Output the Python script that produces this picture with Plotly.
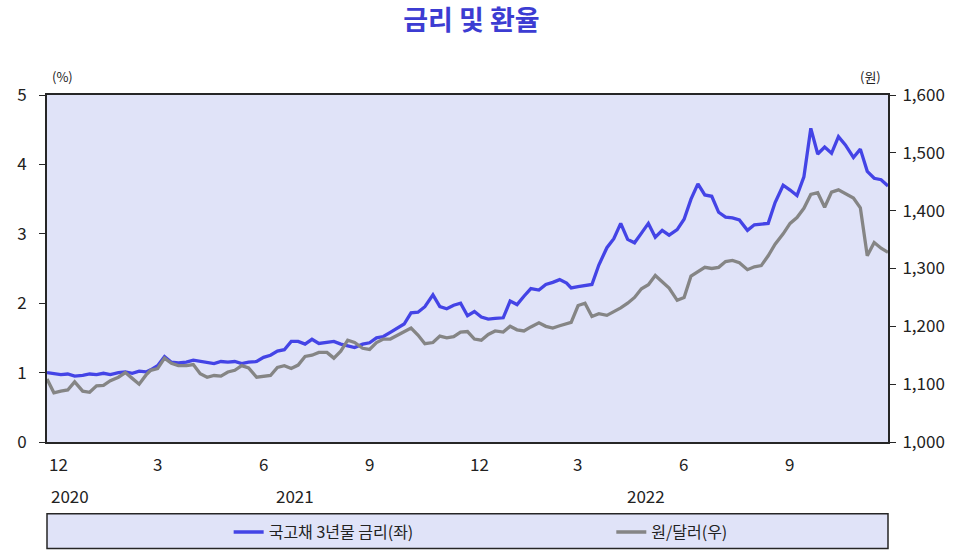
import pandas as pd
import plotly.graph_objects as go

# 관측일: 2020.12 ~ 2022.11 매월 1, 7, 13, 19, 25일 + 2022.12.1
months = pd.date_range('2020-12-01', '2022-11-01', freq='MS')
sample_days = [0, 6, 12, 18, 24]
dates = [m + pd.Timedelta(days=d) for m in months for d in sample_days]
dates.append(pd.Timestamp('2022-12-01'))

# 국고채 3년물 금리 (%)
ktb_3y = [
    1.00, 0.98, 0.97, 0.98, 0.95,  # 2020-12
    0.96, 0.98, 0.97, 0.99, 0.97,  # 2021-01
    1.00, 1.01, 0.99, 1.02, 1.01,
    1.04, 1.10, 1.23, 1.15, 1.14,
    1.15, 1.18, 1.16, 1.15, 1.13,
    1.16, 1.15, 1.16, 1.13, 1.15,
    1.16, 1.22, 1.25, 1.31, 1.33,
    1.45, 1.45, 1.41, 1.48, 1.42,
    1.44, 1.45, 1.41, 1.38, 1.36,
    1.41, 1.43, 1.50, 1.52, 1.58,
    1.64, 1.70, 1.86, 1.87, 1.95,
    2.12, 1.95, 1.92, 1.97, 2.00,
    1.82, 1.88, 1.80, 1.77, 1.78,  # 2021-12
    1.79, 2.03, 1.98, 2.10, 2.21,  # 2022-01
    2.19, 2.27, 2.30, 2.34, 2.29,
    2.22, 2.24, 2.26, 2.27, 2.55,
    2.80, 2.93, 3.15, 2.92, 2.87,
    3.01, 3.15, 2.95, 3.05, 2.98,
    3.06, 3.21, 3.50, 3.72, 3.56,
    3.54, 3.31, 3.24, 3.23, 3.20,
    3.05, 3.13, 3.14, 3.15, 3.45,
    3.70, 3.63, 3.55, 3.82, 4.52,
    4.15, 4.25, 4.16, 4.40, 4.28,
    4.10, 4.22, 3.90, 3.80, 3.78,
    3.69,
]

# 원/달러 환율 (원)
usd_krw = [
    1109, 1085, 1088, 1090, 1104,  # 2020-12
    1088, 1086, 1097, 1098, 1106,  # 2021-01
    1112, 1120, 1110, 1100, 1116,
    1124, 1127, 1145, 1136, 1132,
    1132, 1134, 1118, 1112, 1115,
    1114, 1121, 1124, 1132, 1128,
    1112, 1114, 1115, 1129, 1132,
    1127, 1133, 1148, 1150, 1155,
    1155, 1145, 1157, 1176, 1172,
    1162, 1160, 1172, 1178, 1178,
    1184, 1190, 1197, 1185, 1170,
    1172, 1183, 1180, 1182, 1190,
    1191, 1178, 1176, 1186, 1192,  # 2021-12
    1190, 1200, 1194, 1192, 1199,  # 2022-01
    1206, 1200, 1197, 1201, 1204,
    1207, 1236, 1240, 1217, 1222,
    1219, 1225, 1232, 1240, 1250,
    1265, 1272, 1288, 1276, 1266,
    1245, 1250, 1287, 1294, 1302,
    1300, 1302, 1312, 1314, 1310,
    1298, 1303, 1305, 1322, 1342,
    1360, 1378, 1388, 1404, 1428,
    1431, 1406, 1432, 1436, 1430,
    1422, 1405, 1322, 1345, 1335,
    1328,
]

month_ticks = ['2020-12-01', '2021-03-01', '2021-06-01', '2021-09-01',
               '2021-12-01', '2022-03-01', '2022-06-01', '2022-09-01']
month_labels = ['12', '3', '6', '9', '12', '3', '6', '9']
year_pos = ['2020-12-21', '2021-07-04', '2022-05-05']
year_labels = ['2020', '2021', '2022']

FONT = 'Noto Sans CJK KR'
BLUE = '#4444e6'
GRAY = '#858585'
AXIS = '#262626'

fig = go.Figure()

fig.add_trace(go.Scatter(
    x=dates, y=ktb_3y, name='국고채 3년물 금리(좌)', mode='lines',
    line=dict(color=BLUE, width=3.3), legend='legend'))

fig.add_trace(go.Scatter(
    x=dates, y=usd_krw, name='원/달러(우)', mode='lines', yaxis='y2',
    line=dict(color=GRAY, width=3.3), legend='legend2'))

legend_style = dict(orientation='h', xanchor='left', y=-0.256,
                    yanchor='middle', bgcolor='rgba(0,0,0,0)',
                    font=dict(family=FONT, size=16, color='#222222'))

fig.update_layout(
    width=966, height=560,
    margin=dict(l=47, r=78, t=95, b=117),
    paper_bgcolor='white',
    plot_bgcolor='#e0e3f8',
    font=dict(family=FONT, size=17, color='#222222'),
    title=dict(text='<b>금리 및 환율</b>', x=0.488, xanchor='center',
               y=0.963, yanchor='middle',
               font=dict(family=FONT, size=27, color='#3c3cd2')),
    showlegend=True,
    legend=dict(x=0.216, **legend_style),
    legend2=dict(x=0.671, **legend_style),
    xaxis=dict(type='date', range=['2020-12-01', '2022-12-01'],
               showticklabels=False, ticks='', showgrid=False,
               showline=True, linecolor=AXIS, linewidth=2, mirror=True,
               zeroline=False),
    yaxis=dict(range=[0, 5], dtick=1, ticks='outside', ticklen=6,
               ticklabelstandoff=9,
               tickcolor=AXIS, showgrid=False, zeroline=False,
               showline=True, linecolor=AXIS, linewidth=2),
    yaxis2=dict(range=[1000, 1600], dtick=100, tickformat=',',
                overlaying='y', side='right', ticks='outside', ticklen=6,
                ticklabelstandoff=3,
                tickcolor=AXIS, showgrid=False, zeroline=False,
                showline=True, linecolor=AXIS, linewidth=2),
)

# 범례 상자
fig.add_shape(type='rect', xref='paper', yref='paper',
              x0=0, x1=1, y0=-0.307, y1=-0.207,
              fillcolor='#e0e3f8', line=dict(color=AXIS, width=1.5),
              layer='below')

# 월 / 연도 라벨
for d, t in zip(month_ticks, month_labels):
    fig.add_annotation(x=d, y=-0.063, xref='x', yref='paper', text=t,
                       showarrow=False, xanchor='left', yanchor='middle',
                       font=dict(size=17))
for d, t in zip(year_pos, year_labels):
    fig.add_annotation(x=d, y=-0.155, xref='x', yref='paper', text=t,
                       showarrow=False, xanchor='center', yanchor='middle',
                       font=dict(size=17))

# 단위
fig.add_annotation(x=0.019, y=1.052, xref='paper', yref='paper', text='(%)',
                   showarrow=False, xanchor='center', yanchor='middle',
                   font=dict(size=13))
fig.add_annotation(x=0.979, y=1.052, xref='paper', yref='paper', text='(원)',
                   showarrow=False, xanchor='center', yanchor='middle',
                   font=dict(size=13))

# 페이지 기본 여백 제거, 모드바 숨김
fig.write_html('out.html', config={'displayModeBar': False},
               post_script="document.body.style.margin='0px';")
